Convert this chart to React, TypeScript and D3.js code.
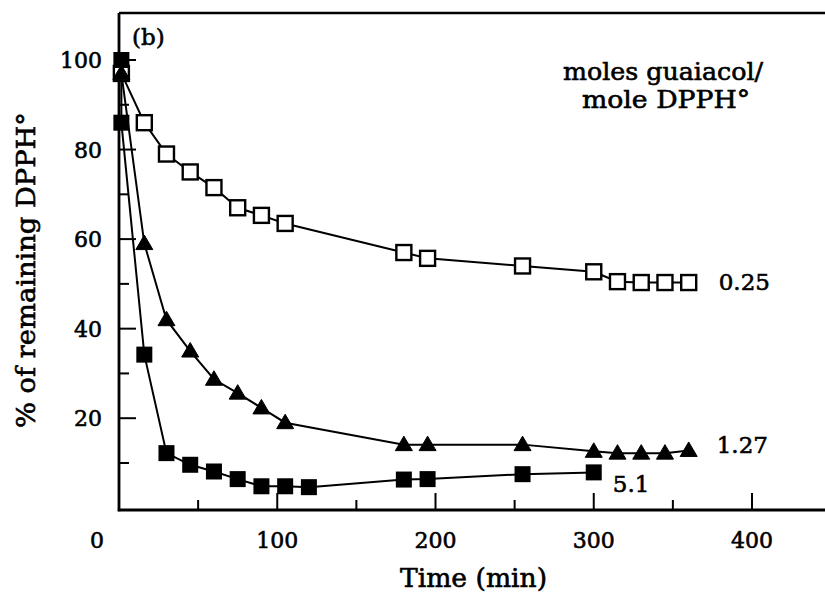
import React from "react";
import * as d3 from "d3";

// ---- Data ----
const series025: [number, number][] = [
  [1.5, 97], [16, 86], [30, 79], [45, 75], [60, 71.5], [75, 67], [90, 65.3], [105, 63.5],
  [180, 57], [195, 55.7], [255, 54], [300, 52.7], [315, 50.5], [330, 50.3], [345, 50.3], [360, 50.3],
];
const series127: [number, number][] = [
  [1.5, 97], [16, 59], [30, 42], [45, 35], [60, 28.7], [75, 25.6], [90, 22.3], [105, 19],
  [180, 14.1], [195, 14.1], [255, 14.1], [300, 12.6], [315, 12.2], [330, 12.2], [345, 12.2], [360, 12.8],
];
const series51: [number, number][] = [
  [1.5, 100], [1.5, 86], [16, 34.2], [30, 12.2], [45, 9.6], [60, 8.1], [75, 6.4], [90, 4.8],
  [105, 4.8], [120, 4.6], [180, 6.3], [195, 6.4], [255, 7.5], [300, 7.9],
];
const xMajorTicks = [100, 200, 300, 400];
const xMinorTicks = [50, 150, 250, 350];
const xTickLabels = [0, 100, 200, 300, 400];
const yMajorTicks = [20, 40, 60, 80, 100];
const yMinorTicks = [10, 30, 50, 70, 90];
const seriesLabels = ["0.25", "1.27", "5.1"];

const W = 825;
const H = 592;
const FONT = "'DejaVu Serif', serif";
const TXT = { fill: "#000", stroke: "#000", strokeWidth: 0.6 };

export default function App() {
  const x = d3.scaleLinear().domain([0, 400]).range([119, 752]);
  const y = d3.scaleLinear().domain([-0.5, 100]).range([510, 60]);
  const line = d3
    .line<[number, number]>()
    .x((d) => x(d[0]))
    .y((d) => y(d[1]));

  const axisX = x(0);
  const axisY = y(-0.5);
  const topY = 13;
  const tri = (cx: number, cy: number) =>
    `M${cx},${cy - 8.5}L${cx + 8.5},${cy + 6}L${cx - 8.5},${cy + 6}Z`;

  return (
    <div>
      <style>{`body{margin:0;background:#fff}`}</style>
      <svg width={W} height={H} style={{ display: "block", background: "#fff" }} fontFamily={FONT}>
        {/* frame / axes */}
        <line x1={axisX} y1={topY} x2={W} y2={topY} stroke="#000" strokeWidth={2.5} />
        <line x1={axisX} y1={topY} x2={axisX} y2={axisY + 1.2} stroke="#000" strokeWidth={2.8} />
        <line x1={axisX - 1.2} y1={axisY} x2={W} y2={axisY} stroke="#000" strokeWidth={2.8} />

        {/* x ticks */}
        {xMajorTicks.map((t) => (
          <line key={"xM" + t} x1={x(t)} x2={x(t)} y1={axisY} y2={axisY - 17} stroke="#000" strokeWidth={2} />
        ))}
        {xMinorTicks.map((t) => (
          <line key={"xm" + t} x1={x(t)} x2={x(t)} y1={axisY} y2={axisY - 10} stroke="#000" strokeWidth={2} />
        ))}
        {xTickLabels.map((t) => (
          <text key={"xl" + t} x={t === 0 ? x(t) - 22 : x(t)} y={548} textAnchor="middle" fontSize={22} {...TXT}>
            {t}
          </text>
        ))}

        {/* y ticks */}
        {yMajorTicks.map((t) => (
          <line key={"yM" + t} x1={axisX} x2={axisX + 17} y1={y(t)} y2={y(t)} stroke="#000" strokeWidth={2} />
        ))}
        {yMinorTicks.map((t) => (
          <line key={"ym" + t} x1={axisX} x2={axisX + 10} y1={y(t)} y2={y(t)} stroke="#000" strokeWidth={2} />
        ))}
        {yMajorTicks.map((t) => (
          <text key={"yl" + t} x={102} y={y(t) + 8} textAnchor="end" fontSize={22} {...TXT}>
            {t}
          </text>
        ))}

        {/* axis titles */}
        <text x={473.5} y={587} textAnchor="middle" fontSize={26} textLength={147} lengthAdjust="spacingAndGlyphs" {...TXT}>
          Time (min)
        </text>
        <text
          transform="translate(35,270) rotate(-90)"
          textAnchor="middle"
          fontSize={26}
          textLength={316}
          lengthAdjust="spacingAndGlyphs"
          {...TXT}
        >
          % of remaining DPPH°
        </text>

        {/* panel label and legend title */}
        <text x={132} y={45} fontSize={23} {...TXT}>(b)</text>
        <text x={663} y={80} textAnchor="middle" fontSize={24} textLength={200} lengthAdjust="spacingAndGlyphs" {...TXT}>
          moles guaiacol/
        </text>
        <text x={666} y={108} textAnchor="middle" fontSize={24} textLength={168} lengthAdjust="spacingAndGlyphs" {...TXT}>
          mole DPPH°
        </text>

        {/* lines */}
        <path d={line(series025) || ""} fill="none" stroke="#000" strokeWidth={2} />
        <path d={line(series127) || ""} fill="none" stroke="#000" strokeWidth={2} />
        <path d={line(series51) || ""} fill="none" stroke="#000" strokeWidth={2} />

        {/* markers */}
        {series025.map((d, i) => (
          <rect key={"o" + i} x={x(d[0]) - 7.5} y={y(d[1]) - 7.5} width={15} height={15} fill="#fff" stroke="#000" strokeWidth={2.4} />
        ))}
        {series127.map((d, i) => (
          <path key={"t" + i} d={tri(x(d[0]), y(d[1]))} fill="#000" stroke="#000" strokeWidth={1} />
        ))}
        {series51.map((d, i) => (
          <rect key={"s" + i} x={x(d[0]) - 8} y={y(d[1]) - 8} width={16} height={16} fill="#000" />
        ))}

        {/* series labels */}
        <text x={x(series025[series025.length - 1][0]) + 30} y={y(series025[series025.length - 1][1]) + 7} fontSize={23} {...TXT}>
          {seriesLabels[0]}
        </text>
        <text x={x(series127[series127.length - 1][0]) + 28} y={y(series127[series127.length - 1][1]) + 3} fontSize={23} {...TXT}>
          {seriesLabels[1]}
        </text>
        <text x={x(series51[series51.length - 1][0]) + 19} y={y(series51[series51.length - 1][1]) + 20} fontSize={23} {...TXT}>
          {seriesLabels[2]}
        </text>
      </svg>
    </div>
  );
}
